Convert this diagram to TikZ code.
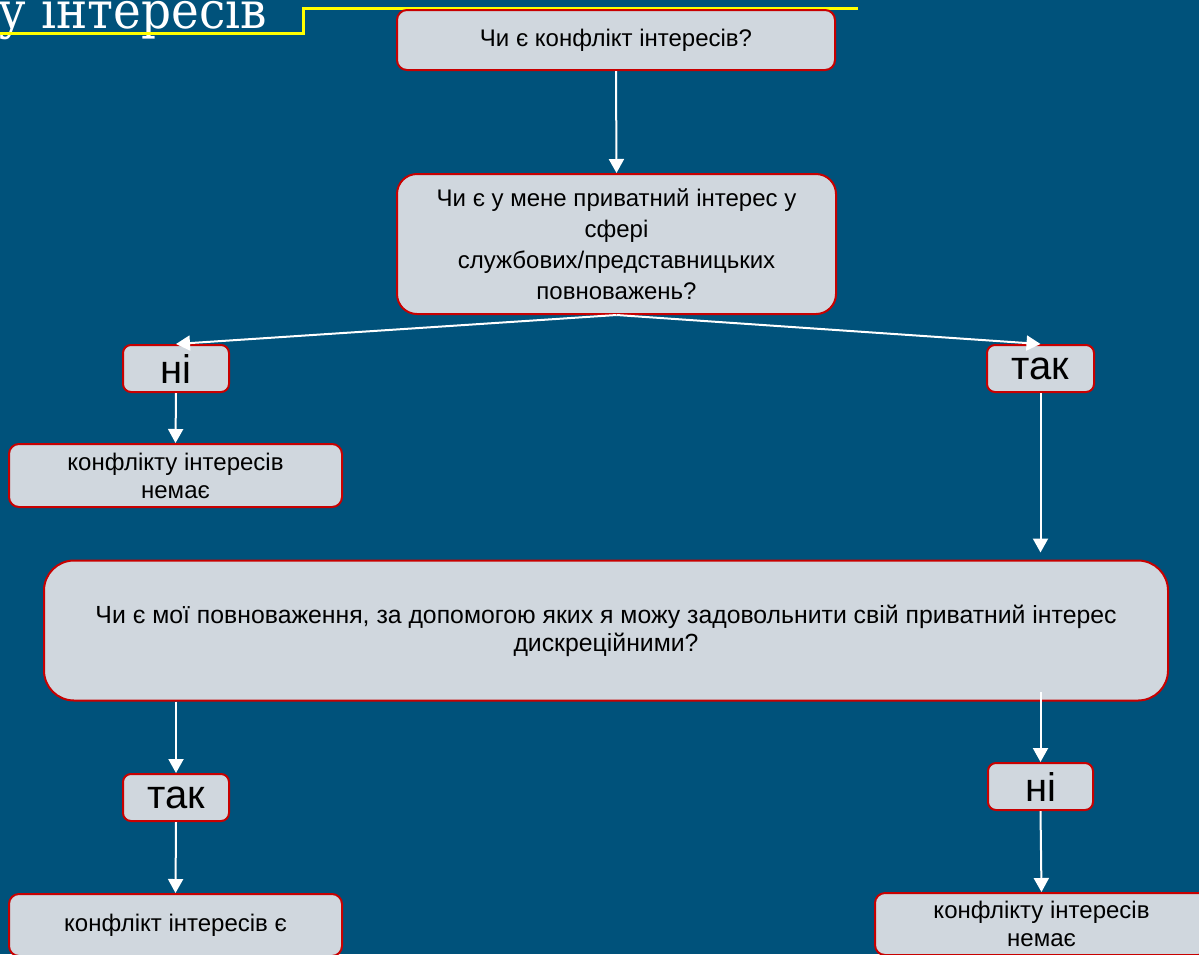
\documentclass[tikz,border=0pt]{standalone}
\usepackage{fontspec}
\setmainfont{Liberation Sans}
\newfontfamily\titlefont{DejaVu Serif}
\usetikzlibrary{arrows.meta}
\definecolor{bg}{HTML}{00527B}
\definecolor{boxfill}{HTML}{D0D7DE}
\definecolor{boxline}{HTML}{C80000}
\definecolor{ttlline}{HTML}{FFFF00}
\begin{document}
\begin{tikzpicture}[x=1pt,y=-1pt,
  box/.style={draw=boxline, fill=boxfill, line width=2pt, inner sep=0pt, align=center,
    text=black, font=\fontsize{24}{30}\selectfont},
  ansbox/.style={box, minimum width=106pt, minimum height=47pt, rounded corners=8pt,
    font=\fontsize{40}{40}\selectfont},
  arr/.style={draw=white, line width=2pt, -{Triangle[length=14pt,width=15pt]}}]
\useasboundingbox (0,0) rectangle (1199,954);
\fill[bg] (0,0) rectangle (1199,954);
\clip (0,0) rectangle (1199,954);
\node[anchor=base east, text=white, inner sep=0pt,
  font=\titlefont\fontsize{51}{51}\selectfont] (title) at (267,28) {\scalebox{0.92}[1]{у інтересів}};
\draw[ttlline, line width=3pt] (-2,33.5) -- (303,33.5) -- (303,8) -- (858,8);
\node[box, minimum width=438pt, minimum height=60pt, rounded corners=10pt] (q1) at (616,40)
  {Чи є конфлікт інтересів?};
\node[box, minimum width=439pt, minimum height=140pt, rounded corners=20pt,
  font=\fontsize{24}{31}\selectfont] (q2) at (616.5,244)
  {Чи є у мене приватний інтерес у\\сфері\\службових/представницьких\\повноважень?};
\node[ansbox] (no1) at (176,368.5) {ні};
\node[ansbox, minimum width=107pt] (yes1) at (1040.5,368.5) {так};
\node[box, minimum width=333pt, minimum height=63pt, rounded corners=10pt,
  font=\fontsize{24}{28}\selectfont] (res1) at (175.5,475.5)
  {конфлікту інтересів\\немає};
\node[box, minimum width=1124pt, minimum height=140pt, rounded corners=30pt,
  font=\fontsize{24.8}{28}\selectfont] (q3) at (606,630.5)
  {Чи є мої повноваження, за допомогою яких я можу задовольнити свій приватний інтерес\\дискреційними?};
\node[ansbox] (yes2) at (176,797.5) {так};
\node[ansbox, minimum width=105pt] (no2) at (1040.5,786.5) {ні};
\node[box, minimum width=333pt, minimum height=62pt, rounded corners=10pt] (res2) at (175.5,925)
  {конфлікт інтересів є};
\node[box, minimum width=333pt, minimum height=62pt, rounded corners=10pt,
  font=\fontsize{24}{28}\selectfont] (res3) at (1041.5,924)
  {конфлікту інтересів\\немає};
\coordinate (c1) at (1040.5,692);
\draw[arr] (q1.south) -- (q2.north);
\draw[arr] (q2.south) -- (no1.north);
\draw[arr] (q2.south) -- (yes1.north);
\draw[arr] (no1.south) -- (res1.north);
\draw[arr, shorten >=7pt] (yes1.south) -- (yes1.south |- q3.north);
\draw[arr] (yes2.north |- q3.south) -- (yes2.north);
\draw[arr] (yes2.south) -- (res2.north);
\draw[arr] (c1) -- (no2.north);
\draw[arr] (no2.south) -- (res3.north);
\end{tikzpicture}
\end{document}
